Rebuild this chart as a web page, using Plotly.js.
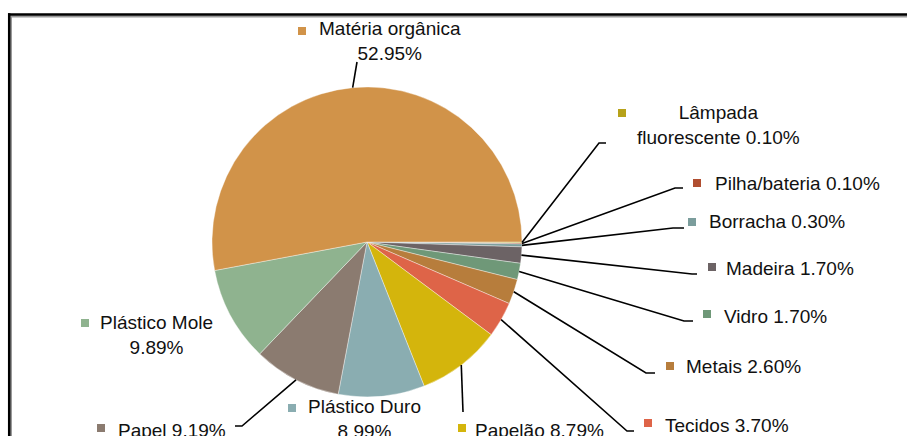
<!DOCTYPE html>
<html><head><meta charset="utf-8">
<script src="https://cdn.plot.ly/plotly-3.0.1.min.js"></script>
<style>html,body{margin:0;padding:0;background:#fff;}#chart{width:907px;height:436px;}</style>
</head><body><div id="chart"></div>
<script>
// ---- data (original order, counter-clockwise from 3 o'clock) ----
const categories = ["Matéria orgânica","Plástico Mole","Papel","Plástico Duro","Papelão","Tecidos","Metais","Vidro","Madeira","Borracha","Pilha/bateria","Lâmpada fluorescente"];
const values = [52.95, 9.89, 9.19, 8.99, 8.79, 3.70, 2.60, 1.70, 1.70, 0.30, 0.10, 0.10];
const labelNames = ["Matéria orgânica<br>", "Plástico Mole<br>", "Papel ", "Plástico Duro<br>", "Papelão ", "Tecidos ", "Metais ", "Vidro ", "Madeira ", "Borracha ", "Pilha/bateria ", "Lâmpada<br>fluorescente "];
const colors = ["#D19349","#8FB38F","#8B7B70","#8AADB1","#D4B50C","#DE6448","#B77D3C","#6F9878","#6C6365","#7B9D9C","#B04E30","#B7A21A"];

// ---- layout of labels (pixels) ----
const W = 907, H = 436;
const CX = 367, CY = 242, R = 155;
const labelLayout = [
  {x:390, y:41,  anchor:'center', sq:[302,31],  path:[[357,62]]},
  {x:156, y:335, anchor:'center', sq:[85,323],  path:null},
  {x:116, y:430, anchor:'left',   sq:[101,428], path:[[242,426],[235,426]]},
  {x:364, y:419, anchor:'center', sq:[292,408], path:null},
  {x:473, y:430, anchor:'left',   sq:[462,428], path:[[463,412]]},
  {x:663, y:425, anchor:'left',   sq:[648,423], path:[[627,431],[634,431]]},
  {x:684, y:366, anchor:'left',   sq:[670,366], path:[[646,373],[655,373]]},
  {x:722, y:316, anchor:'left',   sq:[707,314], path:[[684,321],[693,321]]},
  {x:724, y:268, anchor:'left',   sq:[712,267], path:[[692,274],[697,274]]},
  {x:707, y:222, anchor:'left',   sq:[692,222], path:[[673,228],[684,228]]},
  {x:713, y:183, anchor:'left',   sq:[697,183], path:[[675,188],[683,188]]},
  {x:718, y:125, anchor:'center', sq:[622,113], path:[[599,143],[606,143]]}
];

const px = x => x / W, py = y => 1 - y / H;
const total = values.reduce((a,b)=>a+b,0);

const trace = {
  type: 'pie',
  labels: categories.slice().reverse(),
  values: values.slice().reverse(),
  marker: {colors: colors.slice().reverse(), line: {color: 'rgba(255,255,255,0.55)', width: 0.7}},
  sort: false,
  direction: 'clockwise',
  rotation: 90,
  textinfo: 'none',
  hoverinfo: 'skip',
  showlegend: false,
  domain: {x: [px(CX - R), px(CX + R)], y: [py(CY + R), py(CY - R)]}
};

const shapes = [];
const annotations = [];
let cum = 0;
values.forEach((v, i) => {
  const L = labelLayout[i];
  const mid = (cum + v / 2) / total * 2 * Math.PI;
  cum += v;
  const sx = CX + R * Math.cos(mid), sy = CY - R * Math.sin(mid);
  if (L.path) {
    let d = `M${px(sx)},${py(sy)}`;
    L.path.forEach(p => { d += ` L${px(p[0])},${py(p[1])}`; });
    shapes.push({type:'path', xref:'paper', yref:'paper', path:d, line:{color:'#000', width:1.6}});
  }
  const s = 4;
  shapes.push({type:'rect', xref:'paper', yref:'paper',
    x0:px(L.sq[0]-s), x1:px(L.sq[0]+s), y0:py(L.sq[1]+s), y1:py(L.sq[1]-s),
    fillcolor: colors[i], line:{width:0}});
  annotations.push({xref:'paper', yref:'paper', x:px(L.x), y:py(L.y),
    xanchor:L.anchor, yanchor:'middle', align:L.anchor === 'left' ? 'left' : 'center',
    showarrow:false, text: labelNames[i] + values[i].toFixed(2) + '%',
    font:{family:'Liberation Sans, Arial, sans-serif', size:19, color:'#111'}});
});

// frame
shapes.push({type:'line', xref:'paper', yref:'paper', x0:px(9), x1:1, y0:py(16.5), y1:py(16.5), line:{color:'#9a9a9a', width:2}});
shapes.push({type:'line', xref:'paper', yref:'paper', x0:px(11), x1:px(11), y0:py(16), y1:0, line:{color:'#9a9a9a', width:2}});
shapes.push({type:'line', xref:'paper', yref:'paper', x0:px(8), x1:1, y0:py(14.5), y1:py(14.5), line:{color:'#000', width:2.5}});
shapes.push({type:'line', xref:'paper', yref:'paper', x0:px(9.2), x1:px(9.2), y0:py(13.3), y1:0, line:{color:'#000', width:2.5}});

const layout = {
  width: W, height: H,
  margin: {l:0, r:0, t:0, b:0},
  paper_bgcolor: '#fff', plot_bgcolor: '#fff',
  showlegend: false,
  shapes, annotations
};
Plotly.newPlot('chart', [trace], layout, {displayModeBar:false, staticPlot:true});
</script>
</body></html>
